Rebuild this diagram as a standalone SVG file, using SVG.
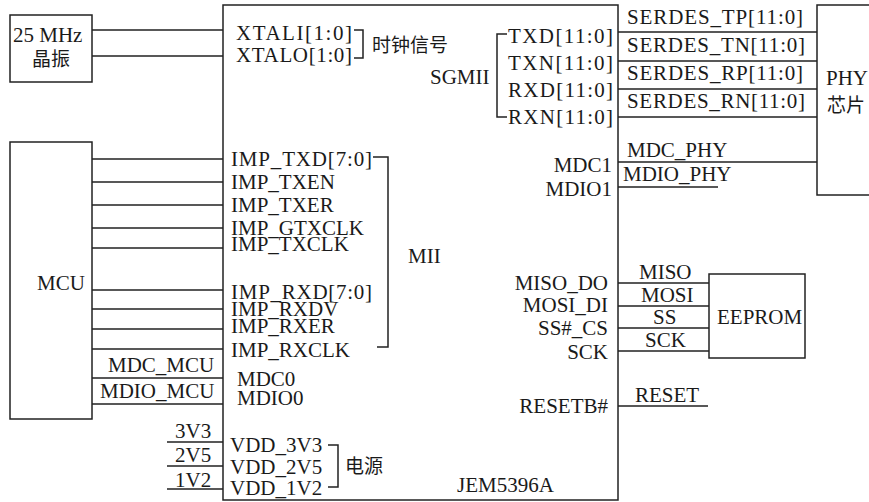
<svg xmlns="http://www.w3.org/2000/svg" width="869" height="502" viewBox="0 0 869 502">
<style>
.box{fill:#fff;stroke:#222;stroke-width:1.5}
.w{stroke:#222;stroke-width:1.5;fill:none}
text{font-family:"Liberation Serif","Times New Roman",serif;font-size:21px;fill:#1a1a1a}
.cn{font-family:"Noto Sans CJK SC",sans-serif;font-size:19px}
.r{text-anchor:end}
</style>
<rect width="869" height="502" fill="#fff"/>
<g id="chip">
<rect class="box" x="223" y="5" width="395" height="495"/>
<text x="236" y="40" textLength="116" lengthAdjust="spacing">XTALI[1:0]</text>
<text x="236" y="62" textLength="116" lengthAdjust="spacing">XTALO[1:0]</text>
<text x="430" y="84">SGMII</text>
<text x="508" y="43" textLength="105" lengthAdjust="spacing">TXD[11:0]</text>
<text x="508" y="70" textLength="105" lengthAdjust="spacing">TXN[11:0]</text>
<text x="508" y="97" textLength="105" lengthAdjust="spacing">RXD[11:0]</text>
<text x="508" y="124" textLength="105" lengthAdjust="spacing">RXN[11:0]</text>
<text class="r" x="612" y="172">MDC1</text>
<text class="r" x="612" y="196">MDIO1</text>
<text x="231" y="166" textLength="141" lengthAdjust="spacing">IMP_TXD[7:0]</text>
<text x="231" y="189">IMP_TXEN</text>
<text x="231" y="212">IMP_TXER</text>
<text x="231" y="235">IMP_GTXCLK</text>
<text x="231" y="251">IMP_TXCLK</text>
<text x="231" y="299" textLength="141" lengthAdjust="spacing">IMP_RXD[7:0]</text>
<text x="231" y="316">IMP_RXDV</text>
<text x="231" y="333">IMP_RXER</text>
<text x="231" y="357">IMP_RXCLK</text>
<text x="408" y="263">MII</text>
<text x="237" y="386">MDC0</text>
<text x="237" y="405">MDIO0</text>
<text x="230" y="452">VDD_3V3</text>
<text x="230" y="474">VDD_2V5</text>
<text x="230" y="495">VDD_1V2</text>
<text class="cn" x="345" y="473">电源</text>
<text class="cn" x="372" y="52">时钟信号</text>
<text class="r" x="608" y="290">MISO_DO</text>
<text class="r" x="608" y="312">MOSI_DI</text>
<text class="r" x="608" y="335">SS#_CS</text>
<text class="r" x="608" y="359">SCK</text>
<text class="r" x="608" y="413">RESETB#</text>
<text x="457" y="492">JEM5396A</text>
</g>
<g id="crystal">
<rect class="box" x="10" y="15" width="82" height="67"/>
<text x="13" y="42">25 MHz</text>
<text class="cn" x="32" y="66">晶振</text>
</g>
<g id="phy">
<rect class="box" x="817" y="5" width="70" height="190"/>
<text x="826" y="85">PHY</text>
<text class="cn" x="827" y="112">芯片</text>
</g>
<g id="mcu">
<rect class="box" x="10" y="142" width="82" height="277"/>
<text x="37" y="290">MCU</text>
</g>
<g id="eeprom">
<rect class="box" x="709" y="274" width="96" height="84"/>
<text x="717" y="324">EEPROM</text>
</g>
<g id="connectors">
<path class="w" d="M92 30H223M92 56H223"/>
<path class="w" d="M92 159H223M92 182H223M92 205H223M92 228H223M92 248H223M92 290H223M92 309H223M92 329H223M92 349H223M92 378H223M92 404H223"/>
<path class="w" d="M167 442H223M167 466H223M167 489H223"/>
<path class="w" d="M618 32H817M618 61H817M618 89H817M618 117H817M618 162H817M618 187H718"/>
<path class="w" d="M618 283H709M618 306H709M618 328H709M618 351H709M618 406H708"/>
<path class="w" d="M354 30H363V58H354"/>
<path class="w" d="M507 34H497V117H507"/>
<path class="w" d="M373 157H388V347H377"/>
<path class="w" d="M328 445H338V487H328"/>
<text x="108" y="372">MDC_MCU</text>
<text x="100" y="398">MDIO_MCU</text>
<text x="175" y="438">3V3</text>
<text x="175" y="462">2V5</text>
<text x="175" y="487">1V2</text>
<text x="627" y="24" textLength="176" lengthAdjust="spacing">SERDES_TP[11:0]</text>
<text x="627" y="52" textLength="178" lengthAdjust="spacing">SERDES_TN[11:0]</text>
<text x="627" y="80" textLength="176" lengthAdjust="spacing">SERDES_RP[11:0]</text>
<text x="627" y="108" textLength="178" lengthAdjust="spacing">SERDES_RN[11:0]</text>
<text x="627" y="157">MDC_PHY</text>
<text x="623" y="181">MDIO_PHY</text>
<text x="639" y="279">MISO</text>
<text x="641" y="302">MOSI</text>
<text x="653" y="324">SS</text>
<text x="645" y="347">SCK</text>
<text x="635" y="402">RESET</text>
</g>
</svg>
